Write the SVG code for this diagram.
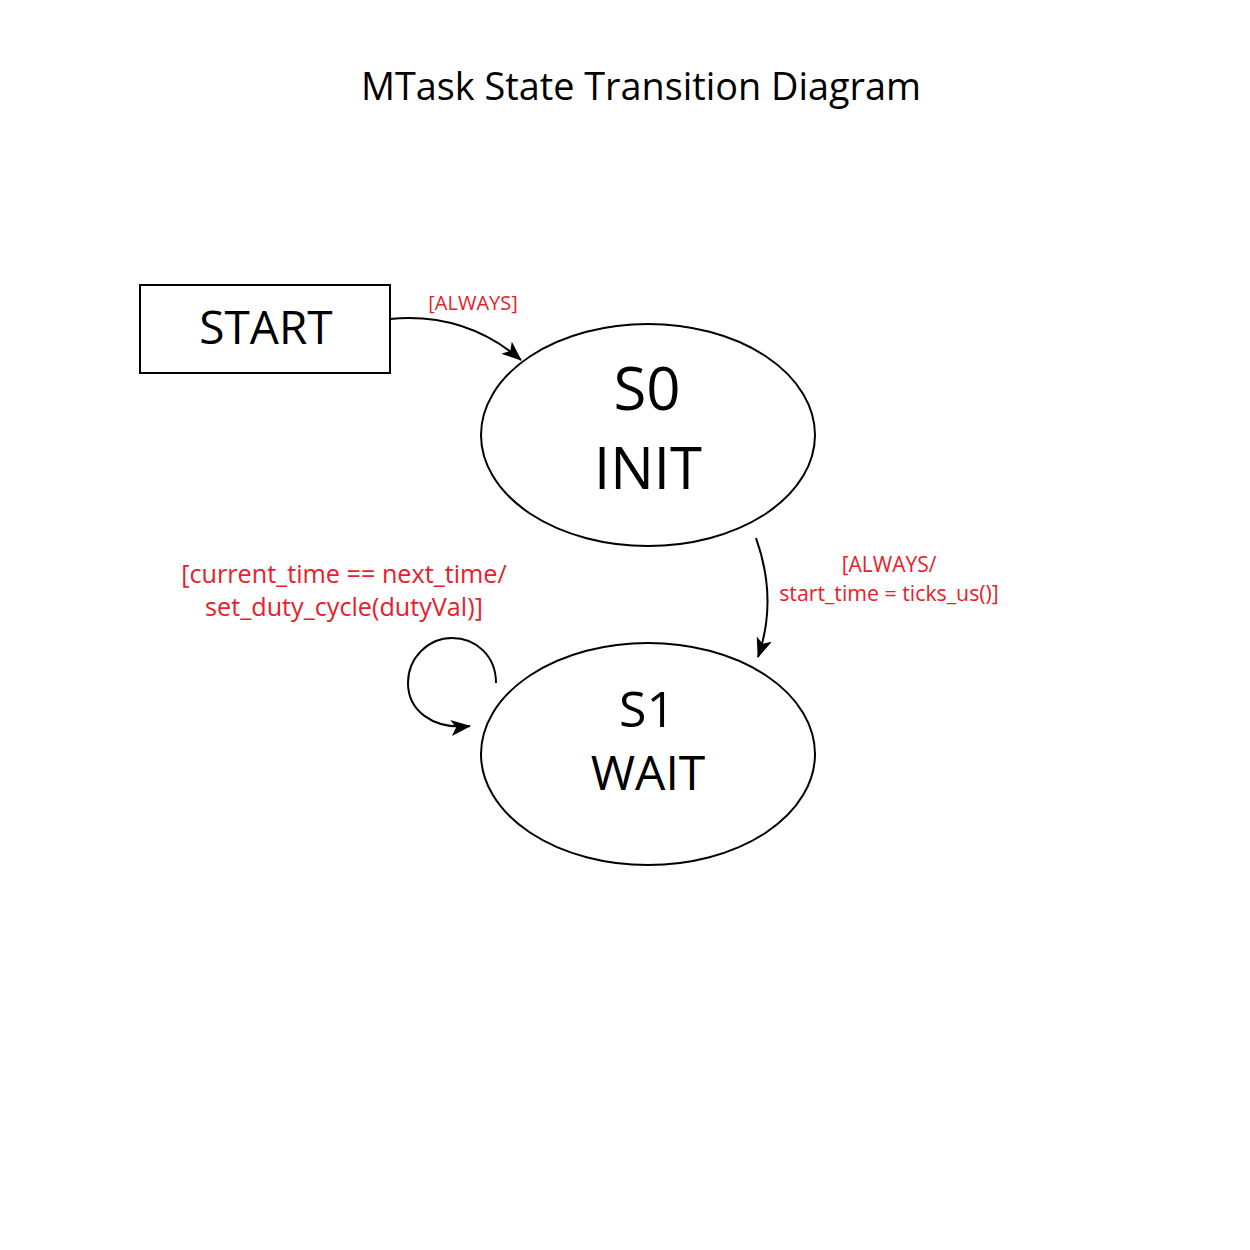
<svg xmlns="http://www.w3.org/2000/svg" width="1250" height="1250" viewBox="0 0 1250 1250">
<style>
text{font-family:"Open Sans","Liberation Sans",sans-serif;text-anchor:middle}
.lbl{fill:#e8202a}
.node{fill:none;stroke:#000;stroke-width:2}
.edge{fill:none;stroke:#000;stroke-width:2;marker-end:url(#ah)}
</style>
<defs>
<marker id="ah" viewBox="0 0 20 16" refX="19" refY="8" markerWidth="20" markerHeight="16" markerUnits="userSpaceOnUse" orient="auto">
<path d="M0,0 L20,8 L0,16 L5,8 Z" fill="#000"/>
</marker>
</defs>
<rect width="1250" height="1250" fill="#fff"/>
<text x="641" y="100" font-size="37.8">MTask State Transition Diagram</text>
<g id="start">
<rect class="node" x="140" y="285" width="250" height="88"/>
<text x="266" y="344" font-size="46">START</text>
</g>
<g id="s0">
<ellipse class="node" cx="648" cy="435" rx="167" ry="111"/>
<text x="647" y="410" font-size="60">S0</text>
<text x="648" y="489" font-size="58">INIT</text>
</g>
<g id="s1">
<ellipse class="node" cx="648" cy="754" rx="167" ry="111"/>
<text x="647" y="727" font-size="50">S1</text>
<text x="648" y="790" font-size="48">WAIT</text>
</g>
<g id="connectors">
<path class="edge" d="M390,319 Q465,312 521,360"/>
<path class="edge" d="M756,538 Q778,600 758,657"/>
<path class="edge" d="M496,683 C496,656 476,638 452,638 C428,638 408,658 408,683 C408,710 432,730 470,726"/>
<text class="lbl" x="473" y="310" font-size="20">[ALWAYS]</text>
<text class="lbl" x="889" y="572" font-size="21">[ALWAYS/</text>
<text class="lbl" x="889" y="601" font-size="21.3">start_time = ticks_us()]</text>
<text class="lbl" x="344" y="583" font-size="25.2">[current_time == next_time/</text>
<text class="lbl" x="344" y="616" font-size="25.2">set_duty_cycle(dutyVal)]</text>
</g>
</svg>
